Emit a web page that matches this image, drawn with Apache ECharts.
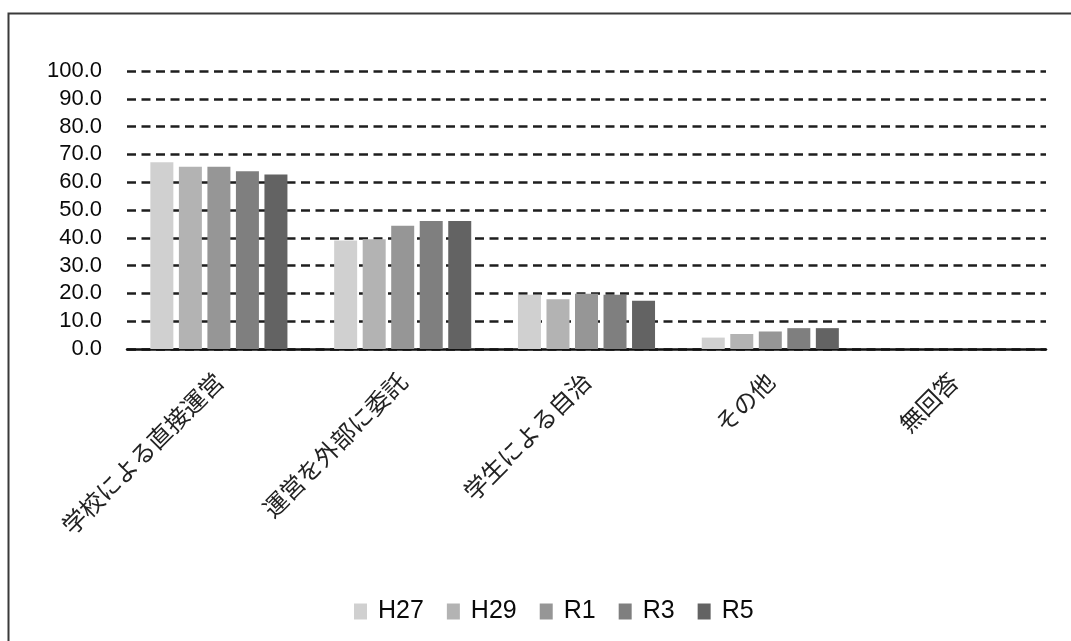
<!DOCTYPE html>
<html>
<head>
<meta charset="utf-8">
<script src="https://cdn.jsdelivr.net/npm/echarts@6/dist/echarts.min.js"></script>
<style>
html,body{margin:0;padding:0;background:#fff;}
#main{width:1071px;height:641px;}
</style>
</head>
<body>
<div id="main"></div>
<script>
const categories = ['学校による直接運営', '運営を外部に委託', '学生による自治', 'その他', '無回答'];
const seriesNames = ['H27', 'H29', 'R1', 'R3', 'R5'];
const H27 = [67.2, 39.0, 19.5, 4.1, 0];
const H29 = [65.6, 39.5, 17.9, 5.4, 0];
const R1  = [65.6, 44.3, 19.9, 6.3, 0];
const R3  = [63.9, 46.0, 19.5, 7.5, 0];
const R5  = [62.8, 46.0, 17.4, 7.5, 0];
const seriesData = [H27, H29, R1, R3, R5];
const colors = ['#d0d0d0', '#b3b3b3', '#969696', '#7f7f7f', '#636363'];

const chart = echarts.init(document.getElementById('main'), null, {renderer: 'canvas'});
const numFont = '"Liberation Sans", Arial, sans-serif';
chart.setOption({
  animation: false,
  backgroundColor: '#fff',
  color: colors,
  graphic: [{
    type: 'rect',
    left: 6, top: 11,
    shape: {width: 1200, height: 800},
    style: {fill: 'none', stroke: '#3a3a3a', lineWidth: 2},
    silent: true,
    z: 100
  }],
  grid: {left: 127, right: 25, top: 71, bottom: 292, containLabel: false},
  legend: {
    data: seriesNames,
    left: 349,
    top: 594,
    itemWidth: 13,
    itemHeight: 16,
    itemGap: 23,
    icon: 'rect',
    textStyle: {fontFamily: numFont, fontSize: 25, color: '#0a0a0a', padding: [0, 0, 0, 6]}
  },
  xAxis: {
    type: 'category',
    data: categories,
    axisLine: {lineStyle: {color: '#111', width: 2.5}},
    axisTick: {show: false},
    axisLabel: {
      interval: 0,
      rotate: 45,
      margin: 28,
      fontSize: 24,
      color: '#222',
      fontFamily: '"Noto Sans CJK JP", sans-serif'
    }
  },
  yAxis: {
    type: 'value',
    min: 0, max: 100, interval: 10,
    axisLine: {show: false},
    axisTick: {show: false},
    axisLabel: {
      margin: 25,
      fontSize: 22,
      color: '#0a0a0a',
      fontFamily: numFont,
      formatter: v => v.toFixed(1)
    },
    splitLine: {lineStyle: {color: '#1e1e1e', width: 2.5, type: [9, 5.5]}}
  },
  series: seriesNames.map((name, i) => ({
    name: name,
    type: 'bar',
    data: seriesData[i],
    barWidth: 23,
    barGap: '24%',
    itemStyle: {color: colors[i]},
    z: 3
  }))
});
</script>
</body>
</html>
